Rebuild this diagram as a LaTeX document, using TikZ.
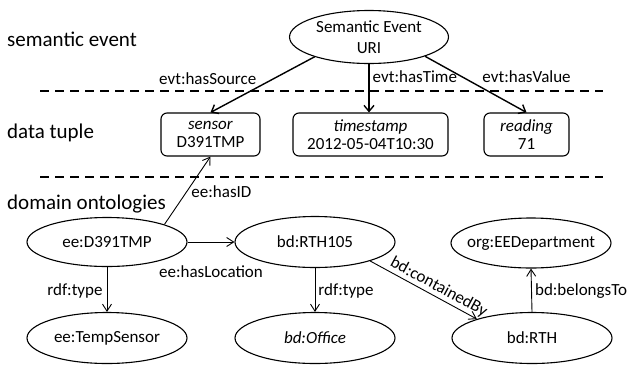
\documentclass[tikz,border=0pt]{standalone}
\usepackage{fontspec}
\setmainfont{Carlito}
\usetikzlibrary{arrows.meta,shapes.geometric}
\newcommand{\zb}[1]{\makebox[0pt]{#1}}
\begin{document}
\begin{tikzpicture}[x=1pt,y=-1pt,
  ell/.style={draw,ellipse,line width=1.1pt,inner sep=0pt,minimum width=160pt,minimum height=50pt,font=\fontsize{17}{20.4}\selectfont},
  box/.style={draw,rounded corners=6pt,line width=1.1pt,inner sep=0pt,minimum height=43pt,align=center,font=\fontsize{17}{18}\selectfont},
  toparr/.style={line width=1.4pt,-{Straight Barb[length=6pt,width=10pt]}},
  botarr/.style={line width=0.9pt,-{Straight Barb[length=7pt,width=9pt]}},
  elab/.style={inner sep=0pt,font=\fontsize{17}{20}\selectfont},
  side/.style={inner sep=0pt,anchor=base west,font=\fontsize{21}{25}\selectfont},
  sep/.style={line width=1.5pt,dash pattern=on 9pt off 6pt}]
\useasboundingbox (0,0) rectangle (628,365);
% section labels
\node[side] (lse) at (7,46) {semantic event};
\node[side] (ldt) at (7,138) {data tuple};
\node[side] (ldo) at (7,209) {domain ontologies};
% separators
\coordinate (s1a) at (40,91); \coordinate (s1b) at (603,91);
\coordinate (s2a) at (40,177); \coordinate (s2b) at (603,177);
\draw[sep] (s1a) -- (s1b);
\draw[sep] (s2a) -- (s2b);
% semantic event
\node[ell,minimum width=159pt,minimum height=53pt,align=center] (se) at (369,37) {\zb{Semantic Event}\\\zb{URI}};
% data tuple
\node[box,minimum width=99pt] (sensor) at (210.5,134.5) {\textit{sensor}\\D391TMP};
\node[box,minimum width=155pt] (time) at (370.5,134.5) {\textit{timestamp}\\2012-05-04T10:30};
\node[box,minimum width=85pt] (reading) at (526.5,134.5) {\textit{reading}\\71};
% ontology nodes
\node[ell,minimum height=49pt] (ee1) at (107,242) {\zb{ee:D391TMP}};
\node[ell,minimum height=51pt] (rth105) at (315,242) {\zb{bd:RTH105}};
\node[ell] (org) at (531,243) {\zb{org:EEDepartment}};
\node[ell,minimum height=51pt] (temp) at (107,338) {\zb{ee:TempSensor}};
\node[ell,minimum height=51pt] (office) at (315,338) {\zb{\textit{bd:Office}}};
\node[ell,minimum height=51pt] (rth) at (532,338) {\zb{bd:RTH}};
% top arrows
\draw[toparr] (se.200) -- (sensor.north) node[elab,pos=0.5,anchor=base east,xshift=-5.5pt] (l1) {evt:hasSource};
\draw[toparr] (se.south) -- (se.south |- time.north) node[elab,pos=0.39,anchor=base west,xshift=3pt] (l2) {evt:hasTime};
\draw[toparr] (se.341) -- (reading.north) node[elab,pos=0.47,anchor=base west,xshift=9pt] (l3) {evt:hasValue};
% ontology arrows
\draw[botarr] (ee1.17) -- (sensor.south) node[elab,pos=0.39,anchor=base west,xshift=8.6pt] (l4) {ee:hasID};
\draw[botarr] (ee1) -- (rth105) node[elab,midway,anchor=base,yshift=-35pt] (l5) {ee:hasLocation};
\draw[botarr] (ee1.south) -- (temp.north) node[elab,pos=0.63,anchor=base east,xshift=-4pt] (l6) {rdf:type};
\draw[botarr] (rth105.south) -- (office.north) node[elab,pos=0.63,anchor=base west,xshift=3pt] (l7) {rdf:type};
\draw[botarr] (rth105.341) -- (rth.161) node[elab,pos=0.6,sloped,above=2pt] (l8) {bd:containedBy};
\draw[botarr] (rth.north) -- (org.south) node[elab,pos=0.37,anchor=base west,xshift=3pt] (l9) {bd:belongsTo};
\end{tikzpicture}
\end{document}
